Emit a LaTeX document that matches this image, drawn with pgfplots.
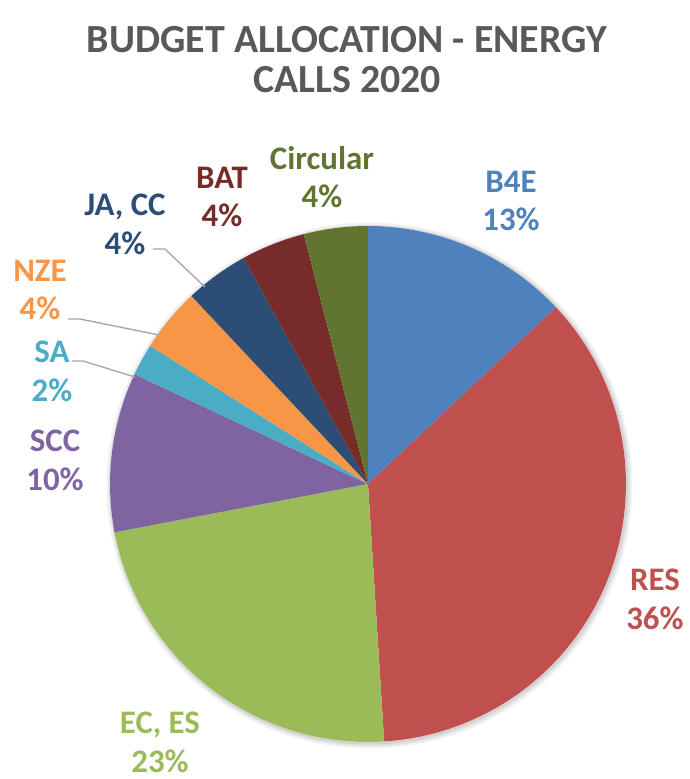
\documentclass[border=0pt]{standalone}
\usepackage{fontspec}
\setmainfont{Carlito}
\usepackage{pgfplots}
\usepackage{pgfplotstable}
\pgfplotsset{compat=1.18}
\definecolor{pie0}{HTML}{4F81BD}
\definecolor{pie1}{HTML}{C0504D}
\definecolor{pie2}{HTML}{9BBB59}
\definecolor{pie3}{HTML}{8064A2}
\definecolor{pie4}{HTML}{4BACC6}
\definecolor{pie5}{HTML}{F79646}
\definecolor{pie6}{HTML}{2C4D75}
\definecolor{pie7}{HTML}{772C2A}
\definecolor{pie8}{HTML}{5F7530}
\definecolor{titlegray}{HTML}{595959}
\definecolor{leader}{HTML}{A6A6A6}
\pgfplotstableread[col sep=comma]{
name,value
B4E,13
RES,36
EC ES,23
SCC,10
SA,2
NZE,4
JA CC,4
BAT,4
Circular,4
}\budget
\begin{document}
\begin{tikzpicture}
\gdef\pieslices{}
\xdef\cum{90}
\foreach \i in {0,...,8}{%
  \pgfplotstablegetelem{\i}{value}\of\budget
  \pgfmathsetmacro\a{\cum}%
  \pgfmathsetmacro\b{\cum-3.6*\pgfplotsretval}%
  \pgfmathsetmacro\sx{368+258*cos(\a)}%
  \pgfmathsetmacro\sy{-484+258*sin(\a)}%
  \xdef\pieslices{\unexpanded\expandafter{\pieslices}\noexpand\fill[pie\i] (axis cs:368,-484) -- (axis cs:\sx,\sy) arc[start angle=\a,end angle=\b,radius=258] -- cycle;}%
  \xdef\cum{\b}%
}
\begin{axis}[width=9cm,height=10.161cm,scale only axis,hide axis,
  xmin=0,xmax=690,ymin=-779,ymax=0,clip=false,disabledatascaling]
\path (axis cs:0,0) rectangle (axis cs:690,-779);
\fill[black,opacity=0.05] (axis cs:369.5,-485.5) circle[radius=263];
\fill[black,opacity=0.06] (axis cs:369.5,-485.5) circle[radius=261];
\fill[black,opacity=0.08] (axis cs:369,-485) circle[radius=259.5];
\fill[white] (axis cs:368,-484) circle[radius=258];
\pieslices
\tikzset{lab/.style={font=\fontsize{12.2}{14.4}\selectfont\bfseries,align=center,inner sep=0pt}}
\node[font=\fontsize{14.8}{18}\selectfont\bfseries,text=titlegray,inner sep=0pt] at (axis cs:347,-40) {BUDGET ALLOCATION - ENERGY};
\node[font=\fontsize{14.8}{18}\selectfont\bfseries,text=titlegray,inner sep=0pt] at (axis cs:347,-80) {CALLS 2020};
\node[lab,text=pie0] at (axis cs:511,-201) {B4E\\13\%};
\node[lab,text=pie1] at (axis cs:655,-599) {RES\\36\%};
\node[lab,text=pie2] at (axis cs:160,-742) {EC, ES\\23\%};
\node[lab,text=pie3] at (axis cs:55,-460) {SCC\\10\%};
\node[lab,text=pie4] at (axis cs:52,-371) {SA\\2\%};
\node[lab,text=pie5] at (axis cs:40,-290) {NZE\\4\%};
\node[lab,text=pie6] at (axis cs:125,-224) {JA, CC\\4\%};
\node[lab,text=pie7] at (axis cs:222,-197) {BAT\\4\%};
\node[lab,text=pie8] at (axis cs:322,-177) {Circular\\4\%};
\draw[leader,line width=0.5pt] (axis cs:153,-249) -- (axis cs:165,-249) -- (axis cs:205,-287);
\draw[leader,line width=0.5pt] (axis cs:68,-319) -- (axis cs:80,-319) -- (axis cs:159,-335);
\draw[leader,line width=0.5pt] (axis cs:72,-361) -- (axis cs:83,-361) -- (axis cs:135,-377);
\end{axis}
\end{tikzpicture}
\end{document}
